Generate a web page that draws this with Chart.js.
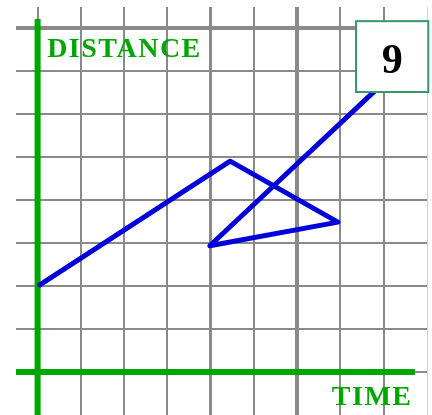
<!DOCTYPE html>
<html>
<head>
<meta charset="utf-8">
<script src="https://cdn.jsdelivr.net/npm/chart.js@4/dist/chart.umd.min.js"></script>
<style>
  html, body { margin: 0; padding: 0; background: #ffffff; }
  canvas { display: block; }
</style>
</head>
<body>
<canvas id="distanceChart" width="432" height="415"></canvas>
<script>
// Path of the traveller (1 unit = 1 square)
const timeValues = [0.05, 4.45, 6.94, 3.98, 7.85];
const distanceValues = [2.03, 4.91, 3.49, 2.94, 6.6];

// Green axis lines
const yAxisTime = [0, 0];
const yAxisDistance = [-1, 8.22];
const xAxisTime = [-0.5, 8.72];
const xAxisDistance = [0, 0];

// Grid squares
const timeTicks = [0, 1, 2, 3, 4, 5, 6, 7, 8, 9];
const distanceTicks = [0, 1, 2, 3, 4, 5, 6, 7, 8];

const axisLabelY = 'DISTANCE';
const axisLabelX = 'TIME';
const questionNumber = '9';

const GREEN = '#00a600';
const GRAY = '#8a8a8a';

function toPoints(xs, ys) {
    return xs.map((x, i) => ({ x: x, y: ys[i] }));
}

// Labels and the numbered box drawn on top of the graph
const labelsPlugin = {
    id: 'labels',
    afterDatasetsDraw(chart) {
        const ctx = chart.ctx;
        const x = chart.scales.x;
        const y = chart.scales.y;
        ctx.save();
        ctx.fillStyle = GREEN;
        ctx.font = 'bold 28px "Liberation Serif", "Times New Roman", serif';
        ctx.letterSpacing = '1.5px';
        ctx.textBaseline = 'alphabetic';
        ctx.textAlign = 'left';
        ctx.fillText(axisLabelY, x.getPixelForValue(0.22), y.getPixelForValue(7.34));
        ctx.fillText(axisLabelX, x.getPixelForValue(6.8), y.getPixelForValue(-0.77));

        // numbered box
        const left = x.getPixelForValue(7.36);
        const right = x.getPixelForValue(9.03);
        const top = y.getPixelForValue(8.17);
        const bottom = y.getPixelForValue(6.52);
        ctx.fillStyle = '#ffffff';
        ctx.fillRect(left, top, right - left, bottom - top);
        ctx.strokeStyle = '#339966';
        ctx.lineWidth = 2;
        ctx.strokeRect(left, top, right - left, bottom - top);
        ctx.fillStyle = '#000000';
        ctx.letterSpacing = '0px';
        ctx.font = 'bold 42px "Liberation Serif", "Times New Roman", serif';
        ctx.textAlign = 'center';
        ctx.fillText(questionNumber, (left + right) / 2, top + 52);
        ctx.restore();
    }
};

const ctx = document.getElementById('distanceChart').getContext('2d');
const chart = new Chart(ctx, {
    type: 'scatter',
    data: {
        datasets: [
            {
                label: 'path',
                data: toPoints(timeValues, distanceValues),
                showLine: true,
                borderColor: '#0000d8',
                borderWidth: 5,
                borderCapStyle: 'round',
                borderJoinStyle: 'round',
                pointRadius: 0,
                tension: 0
            },
            {
                label: 'distance axis',
                data: toPoints(yAxisTime, yAxisDistance),
                showLine: true,
                borderColor: GREEN,
                borderWidth: 6,
                pointRadius: 0
            },
            {
                label: 'time axis',
                data: toPoints(xAxisTime, xAxisDistance),
                showLine: true,
                borderColor: GREEN,
                borderWidth: 6,
                pointRadius: 0
            }
        ]
    },
    options: {
        responsive: false,
        animation: false,
        layout: { padding: { left: 16, right: 5, top: 7, bottom: 0 } },
        plugins: {
            legend: { display: false },
            tooltip: { enabled: false }
        },
        scales: {
            x: {
                type: 'linear',
                min: -0.5,
                max: 9,
                afterBuildTicks: scale => { scale.ticks = timeTicks.map(v => ({ value: v })); },
                ticks: { display: false },
                border: { display: false },
                grid: {
                    drawTicks: false,
                    color: c => c.tick && c.tick.value === 9 ? '#cfcfcf' : GRAY,
                    lineWidth: c => {
                        const v = c.tick ? c.tick.value : 0;
                        if (v === 9) return 1;
                        if (v === 6) return 4;
                        if (v === 4) return 3;
                        return 2;
                    }
                }
            },
            y: {
                type: 'linear',
                min: -1,
                max: 8.5,
                afterBuildTicks: scale => { scale.ticks = distanceTicks.map(v => ({ value: v })); },
                ticks: { display: false },
                border: { display: false },
                grid: {
                    drawTicks: false,
                    color: GRAY,
                    lineWidth: c => (c.tick && c.tick.value === 8 ? 4 : 2)
                }
            }
        }
    },
    plugins: [labelsPlugin]
});
</script>
</body>
</html>
